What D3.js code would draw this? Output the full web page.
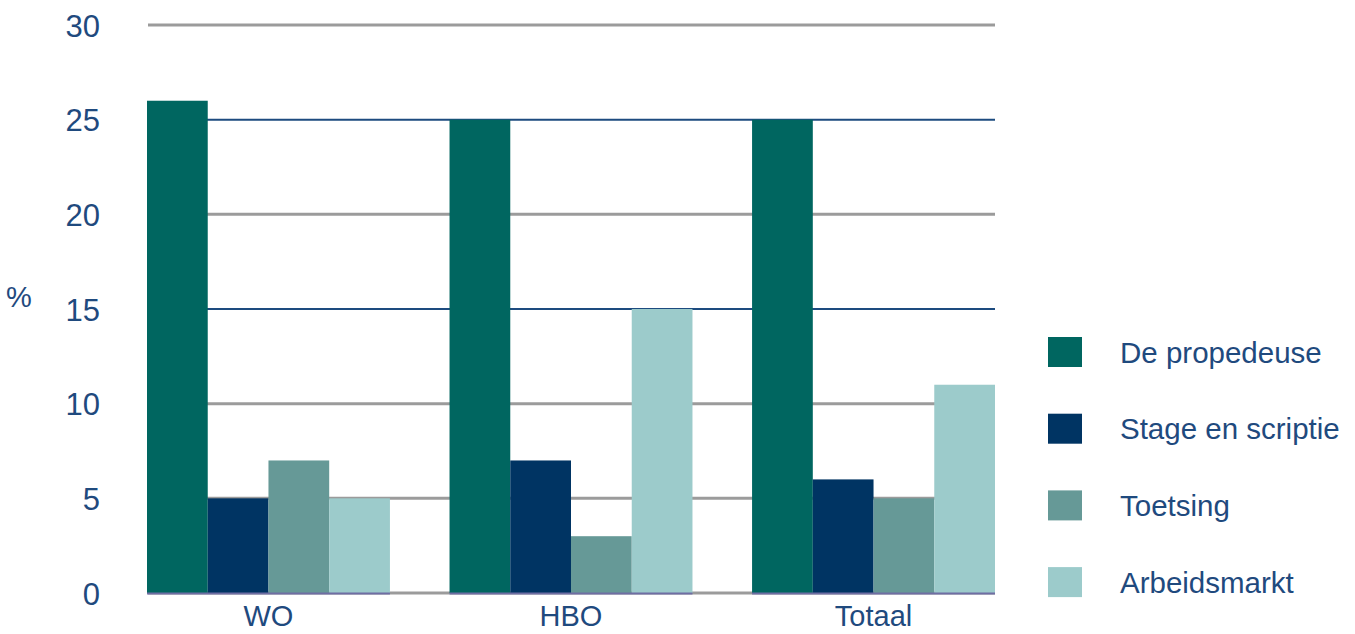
<!DOCTYPE html>
<html>
<head>
<meta charset="utf-8">
<script src="https://cdn.jsdelivr.net/npm/d3@7"></script>
<style>
  html, body { margin: 0; padding: 0; background: #fff; }
  svg { display: block; }
  text { font-family: "Liberation Sans", Arial, sans-serif; fill: #1f4a7e; }
</style>
</head>
<body>
<svg id="chart" width="1355" height="634"></svg>
<script>
// ---- data ----
const categories = ["WO", "HBO", "Totaal"];
const seriesNames = ["De propedeuse", "Stage en scriptie", "Toetsing", "Arbeidsmarkt"];
const propedeuse = [26, 25, 25];
const stageScriptie = [5, 7, 6];
const toetsing = [7, 3, 5];
const arbeidsmarkt = [5, 15, 11];
const yTicks = [0, 5, 10, 15, 20, 25, 30];
const yLabel = "%";

const seriesValues = [propedeuse, stageScriptie, toetsing, arbeidsmarkt];
const colors = ["#006660", "#003463", "#669997", "#9ccbcb"];

const svg = d3.select("#chart");
const plot = { left: 147, right: 995, top: 25, bottom: 593 };

const y = d3.scaleLinear().domain([0, 30]).range([plot.bottom, plot.top]);
const x0 = d3.scaleBand().domain(categories).range([plot.left, plot.right])
  .paddingInner(0.197).paddingOuter(0);
const x1 = d3.scaleBand().domain(seriesNames).range([0, x0.bandwidth()]).padding(0);

// gridlines
const blueTicks = new Set([15, 25]);
svg.append("g").selectAll("line").data(yTicks).join("line")
  .attr("x1", plot.left + 1).attr("x2", plot.right)
  .attr("y1", d => y(d)).attr("y2", d => y(d))
  .attr("stroke", d => blueTicks.has(d) ? "#1d4b7f" : "#9b9b9b")
  .attr("stroke-width", d => blueTicks.has(d) ? 2 : 3);

// y axis labels
const yAxis = d3.axisLeft(y).tickValues(yTicks).tickSize(0).tickPadding(0);
const gy = svg.append("g").attr("transform", "translate(100,0)").call(yAxis);
gy.select(".domain").remove();
gy.selectAll("text").attr("font-size", 31).attr("font-family", "Liberation Sans, Arial, sans-serif")
  .attr("fill", "#1f4a7e").attr("dy", "0.36em");

svg.append("text").attr("x", 19).attr("y", 297).attr("dy", "0.36em")
  .attr("text-anchor", "middle").attr("font-size", 29).attr("fill", "#3a4a66").text(yLabel);

// bars
const groups = svg.append("g").selectAll("g").data(categories).join("g")
  .attr("transform", d => `translate(${x0(d)},0)`);
groups.selectAll("rect")
  .data((c, ci) => seriesNames.map((s, si) => ({ s, si, v: seriesValues[si][ci] })))
  .join("rect")
  .attr("x", d => x1(d.s))
  .attr("width", x1.bandwidth())
  .attr("y", d => y(d.v))
  .attr("height", d => y(0) - y(d.v))
  .attr("fill", d => colors[d.si]);
// thin baseline under bars
groups.append("line")
  .attr("x1", 0).attr("x2", x0.bandwidth())
  .attr("y1", y(0) + 0.5).attr("y2", y(0) + 0.5)
  .attr("stroke", "#6f6ea3").attr("stroke-width", 2);

// x axis labels
const xAxis = d3.axisBottom(x0).tickSize(0).tickPadding(0);
const gx = svg.append("g").attr("transform", `translate(0,${plot.bottom})`).call(xAxis);
gx.select(".domain").remove();
gx.selectAll("text").attr("font-size", 29).attr("font-family", "Liberation Sans, Arial, sans-serif")
  .attr("fill", "#1f4a7e").attr("dy", null).attr("y", 33);

// legend
const legend = svg.append("g").selectAll("g").data(seriesNames).join("g")
  .attr("transform", (d, i) => `translate(1048,${352 + i * 76.7})`);
legend.append("rect").attr("x", 0).attr("y", -15).attr("width", 34).attr("height", 30)
  .attr("fill", (d, i) => colors[i]);
legend.append("text").attr("x", 72).attr("y", 0).attr("dy", "0.36em")
  .attr("font-size", 29.5).text(d => d);
</script>
</body>
</html>
